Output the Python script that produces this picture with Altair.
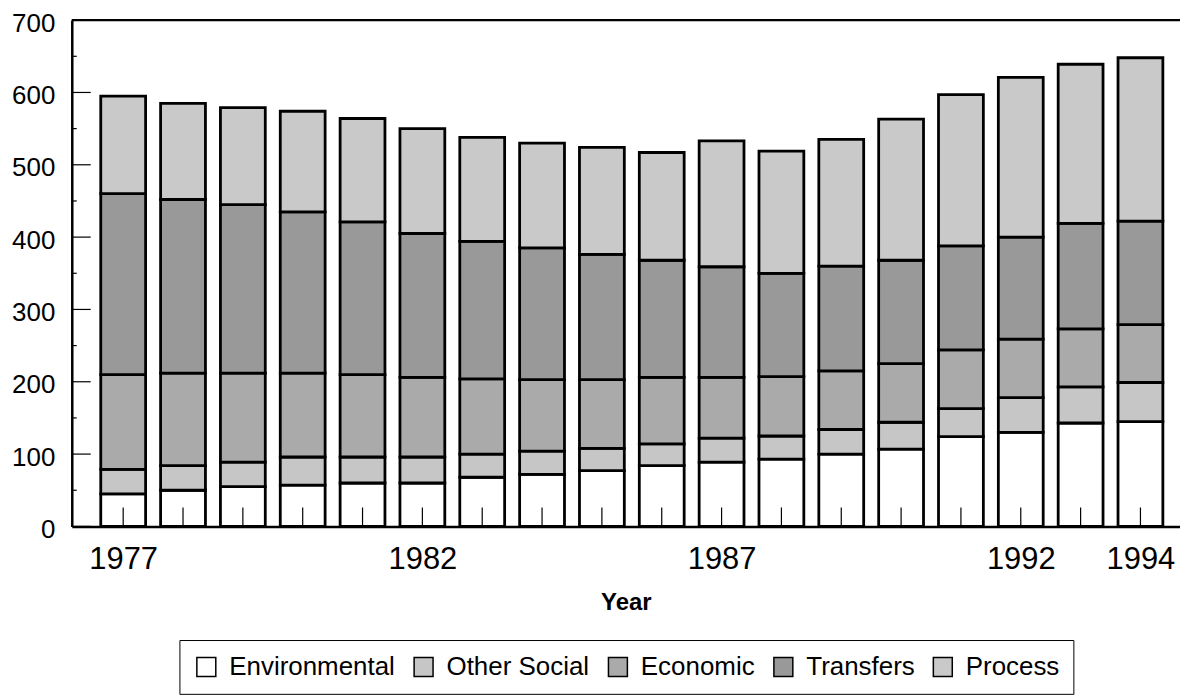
import altair as alt
import pandas as pd

years = list(range(1977, 1995))
environmental = [45, 50, 55, 57, 60, 60, 68, 72, 77, 84, 89, 93, 100, 107, 124, 130, 143, 145]
other_social = [34, 34, 34, 39, 36, 36, 32, 32, 31, 30, 33, 32, 34, 37, 39, 48, 50, 54]
economic = [131, 128, 123, 116, 114, 110, 104, 99, 95, 92, 84, 82, 81, 81, 81, 81, 80, 80]
transfers = [250, 240, 233, 223, 211, 199, 190, 182, 173, 162, 153, 143, 145, 143, 144, 141, 146, 143]
process = [135, 133, 134, 139, 143, 145, 144, 145, 148, 149, 174, 169, 175, 195, 209, 221, 220, 226]

categories = ["Environmental", "Other Social", "Economic", "Transfers", "Process"]
fills = ["#ffffff", "#c6c6c6", "#aaaaaa", "#999999", "#c9c9c9"]
year_labels = [1977, 1982, 1987, 1992, 1994]
y_major = list(range(0, 701, 100))
y_minor = list(range(50, 701, 100))

series = [environmental, other_social, economic, transfers, process]
rows = []
for k, (cat, vals) in enumerate(zip(categories, series)):
    for yr, v in zip(years, vals):
        rows.append({"year": yr, "category": cat, "value": v, "order": k})
df = pd.DataFrame(rows)

W, H = 1112, 508
FONT = "Liberation Sans"
xscale = alt.Scale(domain=[1976.2243, 1994.5777], nice=False, zero=False)
yscale = alt.Scale(domain=[0, 700], nice=False)

xaxis = alt.Axis(values=year_labels, format="d", labelFontSize=31, ticks=False,
                 labelPadding=18, title="Year", titleFontSize=24,
                 titleFontWeight="bold", titlePadding=16, grid=False,
                 labelFlush=False, labelOverlap=False)
yaxis = alt.Axis(values=y_major, labelFontSize=26, ticks=False, labelPadding=17,
                 labelOffset=3, title=None, grid=False, labelFlush=False,
                 labelOverlap=False)

bars = alt.Chart(df).mark_bar(size=45, stroke="black", strokeWidth=2.8).encode(
    x=alt.X("year:Q", scale=xscale, axis=xaxis),
    y=alt.Y("value:Q", stack="zero", scale=yscale, axis=yaxis),
    color=alt.Color("category:N", scale=alt.Scale(domain=categories, range=fills),
                    legend=alt.Legend(orient="none", legendX=108, legendY=622,
                                      direction="horizontal", columns=5, title=None,
                                      strokeColor="black", padding=14, fillColor="white",
                                      labelFontSize=26, labelFont=FONT, labelColor="black",
                                      labelLimit=0,
                                      symbolType="square", symbolSize=361,
                                      symbolStrokeColor="black", symbolStrokeWidth=1.5,
                                      symbolOpacity=1, columnPadding=15, labelOffset=10)),
    order=alt.Order("order:Q", sort="ascending"),
)

center_ticks = alt.Chart(pd.DataFrame({"year": years})).mark_rule(
    color="black", strokeWidth=1.2).encode(
    x=alt.X("year:Q", scale=xscale, axis=xaxis),
    y=alt.value(H), y2=alt.value(H - 19))

major_ticks = alt.Chart(pd.DataFrame({"value": y_major})).mark_rule(
    color="black", strokeWidth=1.2).encode(
    y=alt.Y("value:Q", scale=yscale, axis=yaxis), x=alt.value(0), x2=alt.value(19))

minor_ticks = alt.Chart(pd.DataFrame({"value": y_minor})).mark_rule(
    color="black", strokeWidth=1.2).encode(
    y=alt.Y("value:Q", scale=yscale, axis=yaxis), x=alt.value(0), x2=alt.value(5))

top_line = alt.Chart(pd.DataFrame({"a": [0]})).mark_rule(
    color="black", strokeWidth=2.2).encode(
    y=alt.value(0), x=alt.value(0), x2=alt.value(W))

chart = alt.layer(bars, center_ticks, major_ticks, minor_ticks, top_line).properties(
    width=W, height=H,
    autosize=alt.AutoSizeParams(type="none"),
    padding={"left": 64, "top": 11, "right": 0, "bottom": 173},
).configure_view(stroke=None).configure_axis(
    domainColor="black", domainWidth=2.5, labelColor="black", titleColor="black",
    labelFont=FONT, titleFont=FONT,
)

chart.save("out.html", embed_options={"renderer": "svg", "actions": False})
